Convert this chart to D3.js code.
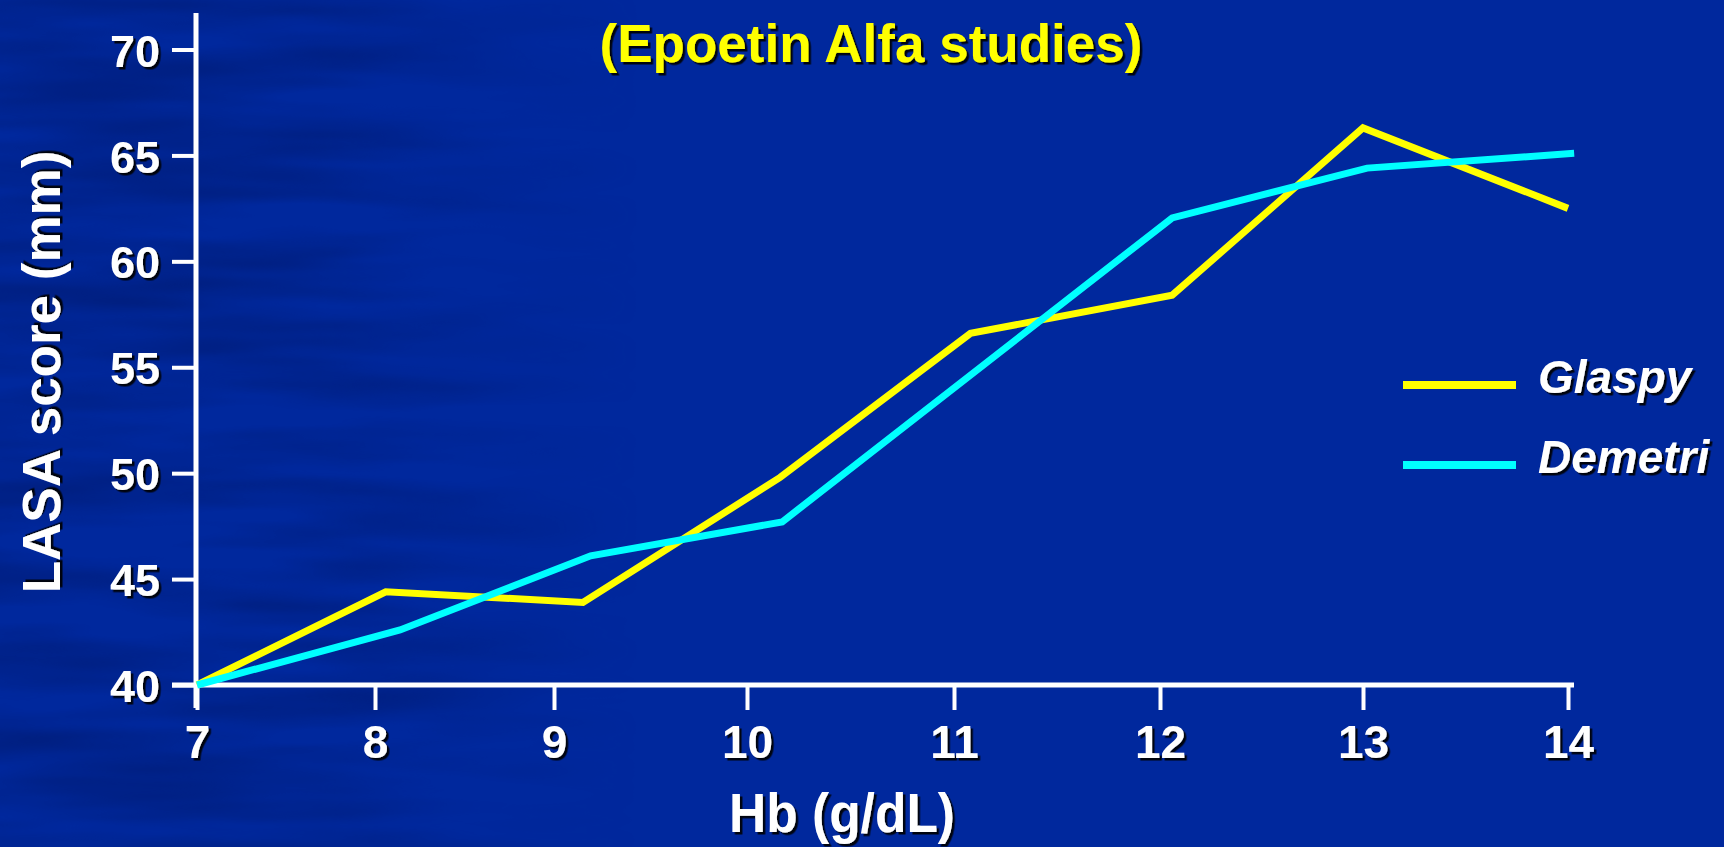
<!DOCTYPE html>
<html>
<head>
<meta charset="utf-8">
<style>
  html, body { margin: 0; padding: 0; background: #00289d; overflow: hidden; }
  text { font-family: "Liberation Sans", Arial, sans-serif; font-weight: bold; }
</style>
</head>
<body>
<div id="viz_area"></div>

<script src="https://d3js.org/d3.v7.min.js"></script>

<script>
    // data
    var hbTicks = [7, 8, 9, 10, 11, 12, 13, 14];
    var lasaTicks = [40, 45, 50, 55, 60, 65, 70];

    var glaspyHb   = [7, 8.06, 9.15, 10.16, 11.08, 12.06, 13.0, 14.0];
    var glaspyLasa = [40, 44.4, 43.9, 49.8, 56.6, 58.4, 66.3, 62.5];

    var demetriHb   = [7, 8.14, 9.19, 10.17, 12.06, 13.02, 14.03];
    var demetriLasa = [40, 42.6, 46.1, 47.7, 62.05, 64.4, 65.1];

    var seriesNames  = ["Glaspy", "Demetri"];
    var seriesColors = ["#ffff00", "#00ffff"];

    var width = 1724, height = 847;

    var svg = d3.select("#viz_area")
        .append("svg")
        .attr("width", width)
        .attr("height", height);

    var defs = svg.append("defs");

    // black drop shadow used on all slide text
    var shadow = defs.append("filter").attr("id", "shadow")
        .attr("x", "-10%").attr("y", "-10%").attr("width", "130%").attr("height", "140%");
    shadow.append("feDropShadow")
        .attr("dx", 2.5).attr("dy", 2.5).attr("stdDeviation", 0.6)
        .attr("flood-color", "#000").attr("flood-opacity", 0.9);

    // streaky darker texture on the left of the slide background
    var tex = defs.append("filter").attr("id", "tex")
        .attr("color-interpolation-filters", "sRGB");
    tex.append("feTurbulence")
        .attr("type", "fractalNoise").attr("baseFrequency", "0.003 0.025")
        .attr("numOctaves", 3).attr("seed", 7);
    tex.append("feColorMatrix").attr("type", "matrix")
        .attr("values", "0 0 0 0 0  0 0 0 0 0.09  0 0 0 0 0.40  1.8 0 0 0 -0.6");

    var fade = defs.append("linearGradient").attr("id", "fade");
    fade.append("stop").attr("offset", "0%").attr("stop-color", "#fff");
    fade.append("stop").attr("offset", "50%").attr("stop-color", "#fff");
    fade.append("stop").attr("offset", "100%").attr("stop-color", "#000");
    defs.append("mask").attr("id", "fadeMask")
        .append("rect").attr("x", 0).attr("y", 0).attr("width", 640).attr("height", height)
        .attr("fill", "url(#fade)");

    svg.append("rect").attr("width", width).attr("height", height).attr("fill", "#00289d");
    svg.append("rect").attr("width", 640).attr("height", height)
        .attr("filter", "url(#tex)").attr("mask", "url(#fadeMask)").attr("opacity", 0.6);

    // the slide's x ticks are not evenly spaced, so map each tick to where it sits
    var xTickPos = [197, 375, 554, 747, 954, 1160, 1363, 1568];
    var x = d3.scaleLinear().domain(hbTicks).range(xTickPos);
    var y = d3.scaleLinear().domain([40, 70]).range([685, 49.5]);

    // subtitle (the main title is cut off above the picture)
    svg.append("text")
        .attr("x", 871).attr("y", 62)
        .attr("text-anchor", "middle")
        .style("font-size", "53px")
        .attr("fill", "#ffff00")
        .attr("filter", "url(#shadow)")
        .text("(Epoetin Alfa studies)");

    // y axis
    var yAxis = svg.append("g")
        .attr("transform", "translate(196,0)")
        .call(d3.axisLeft(y).tickValues(lasaTicks).tickSize(24).tickPadding(12));
    yAxis.select(".domain").remove();
    yAxis.selectAll(".tick line").attr("stroke", "#fff").attr("stroke-width", 4);
    yAxis.selectAll(".tick text")
        .attr("fill", "#fff").attr("dy", "0.37em")
        .style("font-size", "45px")
        .attr("filter", "url(#shadow)");

    // x axis
    var xAxis = svg.append("g")
        .attr("transform", "translate(0,685)")
        .call(d3.axisBottom(x).tickValues(hbTicks).tickSize(25).tickPadding(15).tickFormat(d3.format("d")));
    xAxis.select(".domain").remove();
    xAxis.selectAll(".tick line").attr("stroke", "#fff").attr("stroke-width", 4);
    xAxis.selectAll(".tick text")
        .attr("fill", "#fff")
        .style("font-size", "46px")
        .attr("filter", "url(#shadow)");

    // axis spines
    svg.append("line")
        .attr("x1", 196).attr("x2", 196).attr("y1", 13).attr("y2", y(40) + 23)
        .attr("stroke", "#fff").attr("stroke-width", 5);
    svg.append("line")
        .attr("x1", 172).attr("x2", x(14) + 6).attr("y1", y(40)).attr("y2", y(40))
        .attr("stroke", "#fff").attr("stroke-width", 5);

    // axis titles
    svg.append("text")
        .attr("transform", "translate(60,372) rotate(-90)")
        .attr("text-anchor", "middle")
        .style("font-size", "53px")
        .attr("fill", "#fff")
        .attr("filter", "url(#shadow)")
        .text("LASA score (mm)");

    svg.append("text")
        .attr("x", 842).attr("y", 832)
        .attr("text-anchor", "middle")
        .attr("textLength", 226).attr("lengthAdjust", "spacingAndGlyphs")
        .style("font-size", "55px")
        .attr("fill", "#fff")
        .attr("filter", "url(#shadow)")
        .text("Hb (g/dL)");

    // lines
    var line = d3.line()
        .x(function(d) { return x(d[0]); })
        .y(function(d) { return y(d[1]); });

    var series = [
        d3.zip(glaspyHb, glaspyLasa),
        d3.zip(demetriHb, demetriLasa)
    ];

    svg.selectAll(".series")
        .data(series)
        .enter().append("path")
        .attr("class", "series")
        .attr("d", line)
        .attr("fill", "none")
        .attr("stroke", function(d, i) { return seriesColors[i]; })
        .attr("stroke-width", 7)
        .attr("stroke-linejoin", "miter");

    // legend
    var legend = svg.selectAll(".legend")
        .data(seriesNames)
        .enter().append("g")
        .attr("class", "legend")
        .attr("transform", function(d, i) { return "translate(1403," + (385 + i * 80) + ")"; });

    legend.append("line")
        .attr("x1", 0).attr("x2", 113)
        .attr("stroke", function(d, i) { return seriesColors[i]; })
        .attr("stroke-width", 8);

    legend.append("text")
        .attr("x", 135).attr("y", 8)
        .style("font-size", "46px").style("font-style", "italic")
        .attr("fill", "#fff")
        .attr("filter", "url(#shadow)")
        .text(function(d) { return d; });
</script>
</body>
</html>
